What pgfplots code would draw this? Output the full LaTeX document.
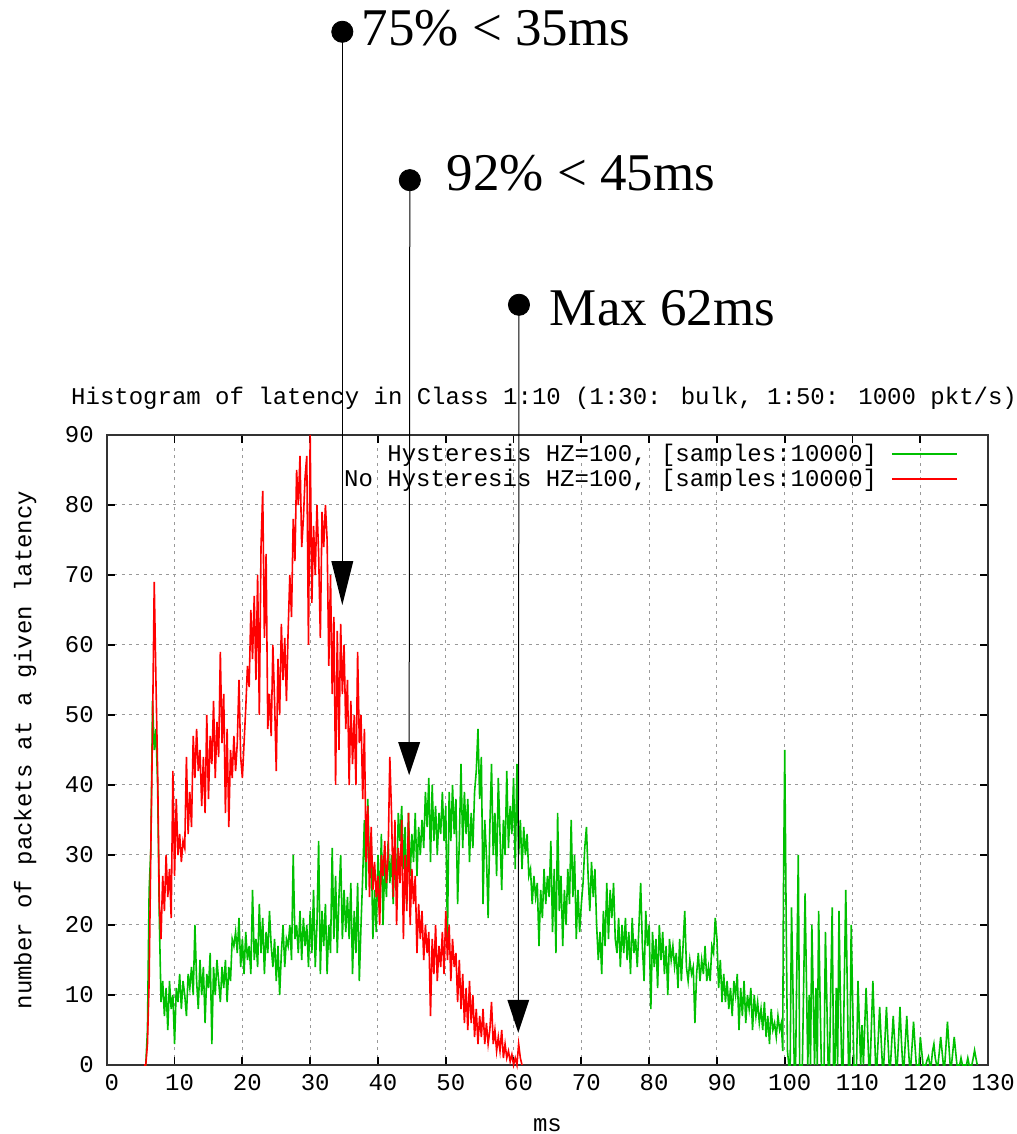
\documentclass[border=0pt]{standalone}
\usepackage{fontspec}
\usepackage{pgfplots}
\usepackage{pgfplotstable}
\pgfplotsset{compat=1.18}
\newfontfamily\gp{Liberation Mono}
\newfontfamily\anno{Liberation Serif}
\newcommand\gpf{\gp\fontsize{12}{14}\selectfont}
\newcommand\annof{\anno\fontsize{26.5}{30}\selectfont}
\definecolor{gpgreen}{RGB}{0,192,0}
\definecolor{gpred}{RGB}{255,0,0}

\pgfplotstableread{
x y
5.50 0
5.75 0
6.00 3
6.25 12
6.50 31
6.75 48
7.00 69
7.25 55
7.50 42
7.75 23
8.00 18
8.25 27
8.50 22
8.75 30
9.00 24
9.25 28
9.50 21
9.75 42
10.00 27
10.25 38
10.50 30
10.75 33
11.00 29
11.25 32
11.50 31
11.75 44
12.00 33
12.25 39
12.50 34
12.75 47
13.00 41
13.25 48
13.50 42
13.75 45
14.00 37
14.25 44
14.50 36
14.75 50
15.00 38
15.25 47
15.50 43
15.75 52
16.00 41
16.25 49
16.50 44
16.75 59
17.00 46
17.25 53
17.50 36
17.75 48
18.00 34
18.25 45
18.50 41
18.75 47
19.00 42
19.25 46
19.50 55
19.75 44
20.00 41
20.25 46
20.50 51
20.75 57
21.00 54
21.25 65
21.50 58
21.75 67
22.00 55
22.25 70
22.50 50
22.75 74
23.00 82
23.25 61
23.50 73
23.75 48
24.00 53
24.25 47
24.50 60
24.75 52
25.00 42
25.25 58
25.50 50
25.75 63
26.00 55
26.25 61
26.50 52
26.75 62
27.00 70
27.25 64
27.50 78
27.75 72
28.00 85
28.25 80
28.50 87
28.75 74
29.00 78
29.25 84
29.50 87
29.75 60
30.00 90
30.25 66
30.50 77
30.75 70
31.00 80
31.25 73
31.50 61
31.75 79
32.00 74
32.25 80
32.50 75
32.75 57
33.00 70
33.25 53
33.50 64
33.75 40
34.00 62
34.25 45
34.50 63
34.75 53
35.00 60
35.25 48
35.50 55
35.75 40
36.00 52
36.25 43
36.50 50
36.75 40
37.00 59
37.25 46
37.50 50
37.75 38
38.00 48
38.25 29
38.50 37
38.75 24
39.00 34
39.25 25
39.50 29
39.75 24
40.00 27
40.25 20
40.50 30
40.75 27
41.00 32
41.25 26
41.50 30
41.75 44
42.00 36
42.25 24
42.50 35
42.75 20
43.00 31
43.25 26
43.50 35
43.75 18
44.00 30
44.25 22
44.50 36
44.75 20
45.00 28
45.25 23
45.50 27
45.75 16
46.00 23
46.25 18
46.50 22
46.75 15
47.00 20
47.25 16
47.50 19
47.75 7
48.00 18
48.25 13
48.50 20
48.75 12
49.00 17
49.25 14
49.50 19
49.75 13
50.00 22
50.25 15
50.50 20
50.75 12
51.00 18
51.25 14
51.50 16
51.75 9
52.00 15
52.25 8
52.50 13
52.75 6
53.00 11
53.25 5
53.50 12
53.75 6
54.00 10
54.25 4
54.50 8
54.75 3
55.00 7
55.25 4
55.50 8
55.75 3
56.00 6
56.25 3
56.50 5
56.75 9
57.00 3
57.25 5
57.50 2
57.75 4
58.00 2
58.25 5
58.50 1
58.75 3
59.00 1
59.25 2
59.50 0.5
59.75 1.5
60.00 0
60.25 1
60.50 0
60.75 3
61.00 1
61.25 0
}\redtable

\pgfplotstableread{
x y
5.50 0
5.75 0
6.00 5
6.25 25
6.50 31
6.75 52
7.00 45
7.25 48
7.50 40
7.75 21
8.00 9
8.25 12
8.50 7
8.75 11
9.00 5
9.25 12
9.50 8
9.75 10
10.00 3
10.25 11
10.50 9
10.75 13
11.00 8
11.25 12
11.50 10
11.75 7
12.00 13
12.25 11
12.50 14
12.75 10
13.00 20
13.25 12
13.50 8
13.75 15
14.00 10
14.25 14
14.50 6
14.75 13
15.00 11
15.25 16
15.50 3
15.75 14
16.00 10
16.25 15
16.50 12
16.75 9
17.00 14
17.25 11
17.50 15
17.75 9
18.00 14
18.25 12
18.50 18
18.75 17
19.00 19
19.25 16
19.50 21
19.75 14
20.00 18
20.25 13
20.50 19
20.75 15
21.00 17
21.25 13
21.50 25
21.75 15
22.00 18
22.25 14
22.50 23
22.75 16
23.00 21
23.25 13
23.50 19
23.75 16
24.00 22
24.25 17
24.50 14
24.75 18
25.00 12
25.25 17
25.50 10
25.75 16
26.00 20
26.25 14
26.50 18
26.75 17
27.00 20
27.25 15
27.50 30
27.75 18
28.00 20
28.25 16
28.50 22
28.75 15
29.00 21
29.25 17
29.50 20
29.75 14
30.00 22
30.25 16
30.50 25
30.75 14
31.00 20
31.25 32
31.50 13
31.75 22
32.00 17
32.25 23
32.50 13
32.75 20
33.00 16
33.25 31
33.50 18
33.75 27
34.00 16
34.25 24
34.50 30
34.75 18
35.00 25
35.25 19
35.50 24
35.75 18
36.00 26
36.25 13
36.50 22
36.75 16
37.00 26
37.25 12
37.50 20
37.75 27
38.00 35
38.25 25
38.50 38
38.75 28
39.00 32
39.25 18
39.50 25
39.75 19
40.00 30
40.25 22
40.50 33
40.75 20
41.00 29
41.25 24
41.50 32
41.75 26
42.00 30
42.25 23
42.50 31
42.75 25
43.00 36
43.25 32
43.50 37
43.75 28
44.00 34
44.25 23
44.50 36
44.75 27
45.00 33
45.25 29
45.50 36
45.75 27
46.00 34
46.25 30
46.50 35
46.75 31
47.00 39
47.25 34
47.50 41
47.75 29
48.00 40
48.25 32
48.50 37
48.75 30
49.00 36
49.25 33
49.50 39
49.75 32
50.00 37
50.25 18
50.50 39
50.75 32
51.00 40
51.25 33
51.50 38
51.75 23
52.00 32
52.25 43
52.50 31
52.75 39
53.00 33
53.25 38
53.50 29
53.75 36
54.00 31
54.25 39
54.50 42
54.75 48
55.00 38
55.25 44
55.50 23
55.75 35
56.00 30
56.25 21
56.50 34
56.75 43
57.00 30
57.25 36
57.50 27
57.75 41
58.00 33
58.25 25
58.50 35
58.75 30
59.00 42
59.25 31
59.50 37
59.75 33
60.00 41
60.25 28
60.50 43
60.75 30
61.00 35
61.25 28
61.50 34
61.75 30
62.00 33
62.25 27
62.50 28
62.75 23
63.00 27
63.25 24
63.50 26
63.75 17
64.00 25
64.25 21
64.50 28
64.75 23
65.00 27
65.25 24
65.50 32
65.75 19
66.00 28
66.25 16
66.50 36
66.75 22
67.00 27
67.25 17
67.50 25
67.75 20
68.00 28
68.25 23
68.50 35
68.75 24
69.00 30
69.25 18
69.50 25
69.75 19
70.00 23
70.25 26
70.50 31
70.75 34
71.00 27
71.25 22
71.50 29
71.75 24
72.00 28
72.25 20
72.50 15
72.75 19
73.00 13
73.25 22
73.50 17
73.75 26
74.00 18
74.25 25
74.50 21
74.75 26
75.00 18
75.25 16
75.50 21
75.75 14
76.00 20
76.25 16
76.50 21
76.75 15
77.00 19
77.25 13
77.50 21
77.75 16
78.00 18
78.25 14
78.50 20
78.75 26
79.00 17
79.25 12
79.50 22
79.75 17
80.00 20
80.25 8
80.50 19
80.75 14
81.00 18
81.25 11
81.50 20
81.75 15
82.00 19
82.25 13
82.50 17
82.75 10
83.00 18
83.25 15
83.50 17
83.75 14
84.00 16
84.25 11
84.50 18
84.75 12
85.00 17
85.25 22
85.50 14
85.75 12
86.00 15
86.25 13
86.50 14
86.75 6
87.00 13
87.25 16
87.50 12
87.75 15
88.00 13
88.25 17
88.50 12
88.75 14
89.00 12
89.25 17
89.50 16
89.75 21
90.00 18
90.25 11
90.50 15
90.75 9
91.00 13
91.25 9
91.50 12
91.75 8
92.00 11
92.25 7
92.50 12
92.75 10
93.00 13
93.25 5
93.50 11
93.75 7
94.00 12
94.25 6
94.50 10
94.75 8
95.00 11
95.25 5
95.50 10
95.75 7
96.00 9
96.25 6
96.50 8
96.75 5
97.00 9
97.25 4
97.50 7
97.75 3
98.00 8
98.25 5
98.50 6
98.75 4
99.00 7
99.25 5
99.50 6
99.70 2
99.80 23.5
100.0 45
100.2 22
100.4 2
100.6 0
100.8 0
101.0 22.5
101.2 11.5
101.4 0
101.6 0
101.8 15
102.0 30
102.2 0
102.4 0
102.6 0
102.8 12
103.0 24.5
103.2 12
103.4 0
103.6 10
103.8 0
104.0 20
104.2 10
104.4 0
104.6 11
104.8 0
105.0 22
105.2 10
105.4 0
105.6 0
105.8 0
106.0 19
106.2 9.5
106.4 0
106.6 0
106.8 11.5
107.0 22.5
107.2 0
107.4 0
107.6 11
107.8 0
108.0 22
108.2 10
108.4 0
108.6 0
108.8 12.5
109.0 25
109.2 12.5
109.4 0
109.6 0
109.8 20
110.0 10
110.2 0
110.4 0
110.6 0
110.8 12
111.0 6
111.2 0
111.4 5.7
111.6 0
111.8 5.7
112.0 11
112.2 5.7
112.4 0
112.6 0
112.8 6
113.0 12
113.2 6
113.4 0
113.6 0
113.8 4
114.0 8.3
114.2 4
114.4 0
114.6 0
114.8 4
115.0 8.3
115.2 4
115.4 0
115.6 0
115.8 3.6
116.0 7
116.2 3.6
116.4 0
116.6 0
116.8 4
117.0 8.3
117.2 3.6
117.4 0
117.6 0
117.8 3.6
118.0 7
118.2 3
118.4 0
118.6 0
118.8 3
119.0 6.2
119.2 3
119.4 0
119.6 0
119.8 0
120.0 4
120.2 2
120.4 0
120.6 0
120.8 0
121.0 0.7
121.2 1.2
121.4 0
121.6 0
121.8 2
122.0 3
122.2 1
122.4 0
122.6 0
122.8 1.9
123.0 4
123.2 2
123.4 0
123.6 0
123.8 3
124.0 6.2
124.2 3
124.4 0
124.6 0
124.8 2
125.0 4
125.2 2
125.4 0
125.6 0
125.8 0
126.0 1
126.2 0
126.4 0
126.6 0
126.8 0
127.0 1
127.2 0
127.4 0
127.6 0
127.8 1
128.0 2.1
128.2 1
128.4 0
}\greentable

\begin{document}
\begin{tikzpicture}
\begin{axis}[
  scale only axis,
  width=440.65pt, height=315pt,
  xmin=0, xmax=130, ymin=0, ymax=90,
  xtick={0,10,...,130}, ytick={0,10,...,90},
  xtick pos=both, ytick pos=both,
  tick align=inside,
  major tick length=4pt,
  tick style={black, line width=0.9pt},
  axis line style={black!80, line width=1pt},
  grid=major,
  grid style={black!40, line width=0.5pt, dash pattern=on 1.5pt off 2.2pt},
  /pgf/number format/assume math mode=true,
  tick label style={font=\gpf},
  xticklabel style={yshift=-1.2pt, xshift=2.5pt},
  yticklabel style={xshift=-3pt},
  title={Histogram of latency in Class 1:10 (1:30: bulk, 1:50: 1000 pkt/s)},
  title style={font=\gpf, at={(axis description cs:0.4962,1.030)}, anchor=base, inner sep=0pt},
  xlabel={ms},
  xlabel style={font=\gpf, at={(axis description cs:0.5,-0.1048)}, anchor=base, inner sep=0pt},
  ylabel={number of packets at a given latency},
  ylabel style={font=\gpf, at={(axis description cs:-0.0926,0.5)}, anchor=center, inner sep=0pt},
  legend plot pos=right,
  legend cell align=right,
  legend style={font=\gpf, at={(axis description cs:0.966,0.99)}, anchor=north east,
    draw=none, fill=none, inner sep=0pt, row sep=0.5pt, column sep=2.5pt,
    nodes={inner xsep=4.5pt, inner ysep=1pt}},
  legend image code/.code={\draw[#1] (0pt,0pt) -- (32.5pt,0pt);},
  clip=false,
]
\addplot[gpgreen, line width=0.8pt] table[x=x, y=y] {\greentable};
\addlegendentry{Hysteresis HZ=100, [samples:10000]}
\addplot[gpred, line width=0.8pt] table[x=x, y=y] {\redtable};
\addlegendentry{No Hysteresis HZ=100, [samples:10000]}

\addplot[only marks, mark=*, mark size=5.3pt, black, forget plot] coordinates {(34.74,147.6) (44.7,126.4) (60.8,108.6)};

\draw[black, line width=0.5pt] (axis cs:34.74,147.6) -- (axis cs:34.74,71.9);
\fill[black] (axis cs:34.74,65.7) -- ++(-5.5pt,22pt) -- ++(11pt,0pt) -- cycle;
\draw[black, line width=0.5pt] (axis cs:44.7,126.4) -- (axis cs:44.6,46);
\fill[black] (axis cs:44.6,41.4) -- ++(-5.5pt,16.5pt) -- ++(11pt,0pt) -- cycle;
\draw[black, line width=0.5pt] (axis cs:60.8,108.6) -- (axis cs:60.7,9.3);
\fill[black] (axis cs:60.7,4.6) -- ++(-5.5pt,16.5pt) -- ++(11pt,0pt) -- cycle;

\node[anchor=base west, inner sep=0pt, font=\annof] at (axis cs:37.54,145.6) {75\% < 35ms};
\node[anchor=base west, inner sep=0pt, font=\annof] at (axis cs:50.1,124.9) {92\% < 45ms};
\node[anchor=base west, inner sep=0pt, font=\annof] at (axis cs:65.3,105.7) {Max 62ms};

\coordinate (BL) at (axis cs:-15.75,-9.857);
\coordinate (TR) at (axis cs:134.23,152.14);
\end{axis}
\pgfresetboundingbox
\path[use as bounding box] (BL) rectangle (TR);
\end{tikzpicture}
\end{document}
